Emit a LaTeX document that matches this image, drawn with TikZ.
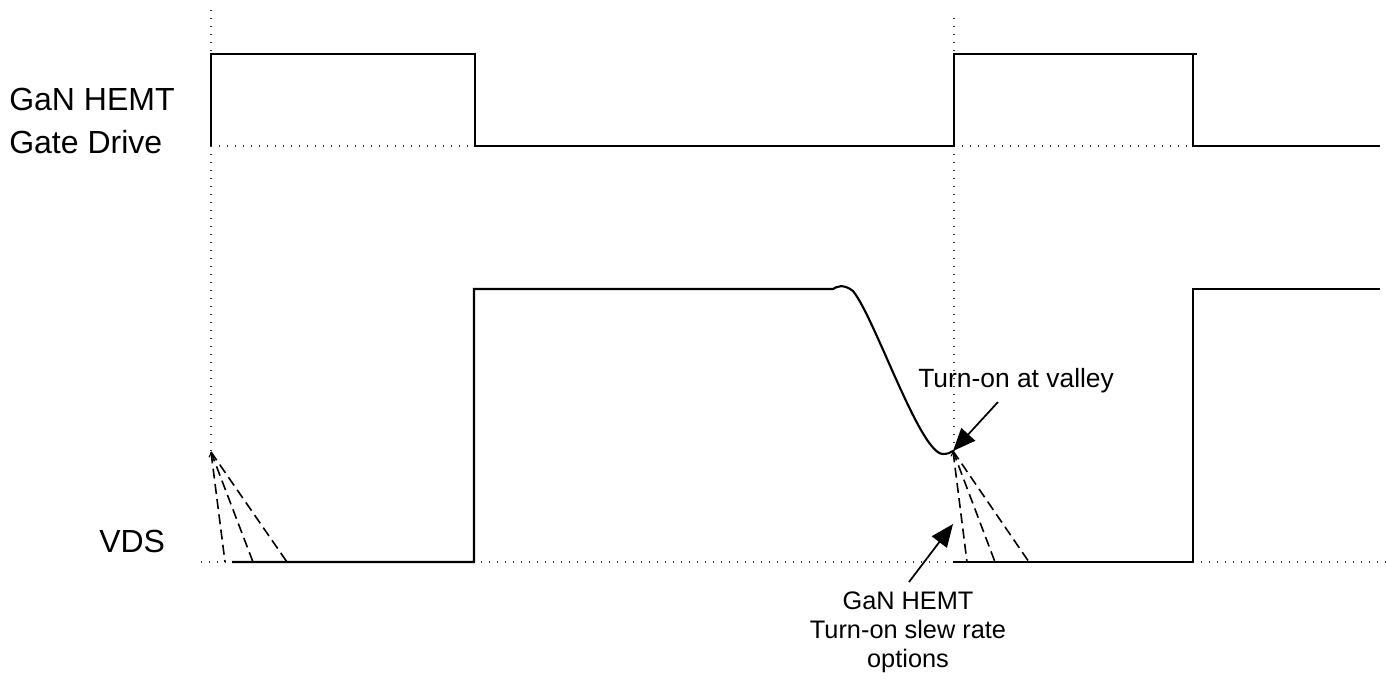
\documentclass[tikz,border=0pt]{standalone}
\usepackage{fontspec}
\setmainfont{Liberation Sans}
\usetikzlibrary{arrows.meta}
\begin{document}
\begin{tikzpicture}[x=0.75pt,y=-0.75pt,
  wave/.style={line width=1.6pt,line join=miter},
  guide/.style={line width=0.8pt,dash pattern=on 0.8pt off 5.2pt,black!80},
  slew/.style={line width=1.2pt,dash pattern=on 7.5pt off 4pt},
  callout/.style={line width=1.3pt,-{Triangle[length=17pt,width=14pt]}},
  biglabel/.style={font=\fontsize{24}{28}\selectfont,inner sep=0pt},
  smalllabel/.style={font=\fontsize{19}{21.75}\selectfont,inner sep=0pt}]
\useasboundingbox (0,0) rectangle (1386,679);
% guide lines
\draw[guide] (211,10) -- (211,452);
\draw[guide] (954,18) -- (954,452);
\draw[guide] (211,146) -- (475,146);
\draw[guide] (954,146) -- (1193,146);
\draw[guide] (201,562) -- (1386,562);
% gate drive waveform
\draw[wave] (211,146) -- (211,54) -- (475,54) -- (475,146) -- (954,146) -- (954,54) -- (1197,54);
\draw[wave] (1193,54) -- (1193,146) -- (1380,146);
% VDS waveform
\draw[wave] (232,562) -- (474,562) -- (474,289) -- (833,289)
  .. controls (836,287) and (843,283) .. (853,291)
  .. controls (875,318) and (920,454) .. (943,454)
  .. controls (947,454) and (950,453) .. (953,451);
\draw[wave] (953,562) -- (1193,562) -- (1193,289) -- (1380,289);
% apex points
\coordinate (apexL) at (211,452);
\coordinate (valley) at (953,451);
% slew rate options (left)
\draw[slew,{Straight Barb[length=3pt,width=4pt,line width=0.8pt]}-] (apexL) -- (225,562);
\draw[slew] (apexL) -- (253,562);
\draw[slew] (apexL) -- (287,562);
% slew rate options (right)
\draw[slew,{Straight Barb[length=3pt,width=4pt,line width=0.8pt]}-] (valley) -- (967,562);
\draw[slew] (valley) -- (995,562);
\draw[slew] (valley) -- (1029,562);
% labels
\node[biglabel,anchor=base west] (gan) at (9,110) {GaN HEMT};
\node[biglabel,anchor=base west] (gate) at (9,153) {Gate Drive};
\node[biglabel,anchor=base west] (vds) at (99,552) {VDS};
\node[smalllabel,font=\fontsize{19.8}{22}\selectfont,anchor=base west] (tov) at (918,387) {Turn-on at valley};
\node[smalllabel,anchor=base,align=center] (slewtxt) at (908,667) {GaN HEMT\\Turn-on slew rate\\options};
% callouts
\coordinate (tovstart) at (998,402);
\coordinate (slewstart) at (909,582);
\coordinate (slewend) at (953,524);
\draw[callout] (tovstart) -- (valley);
\draw[callout] (slewstart) -- (slewend);
\end{tikzpicture}
\end{document}
